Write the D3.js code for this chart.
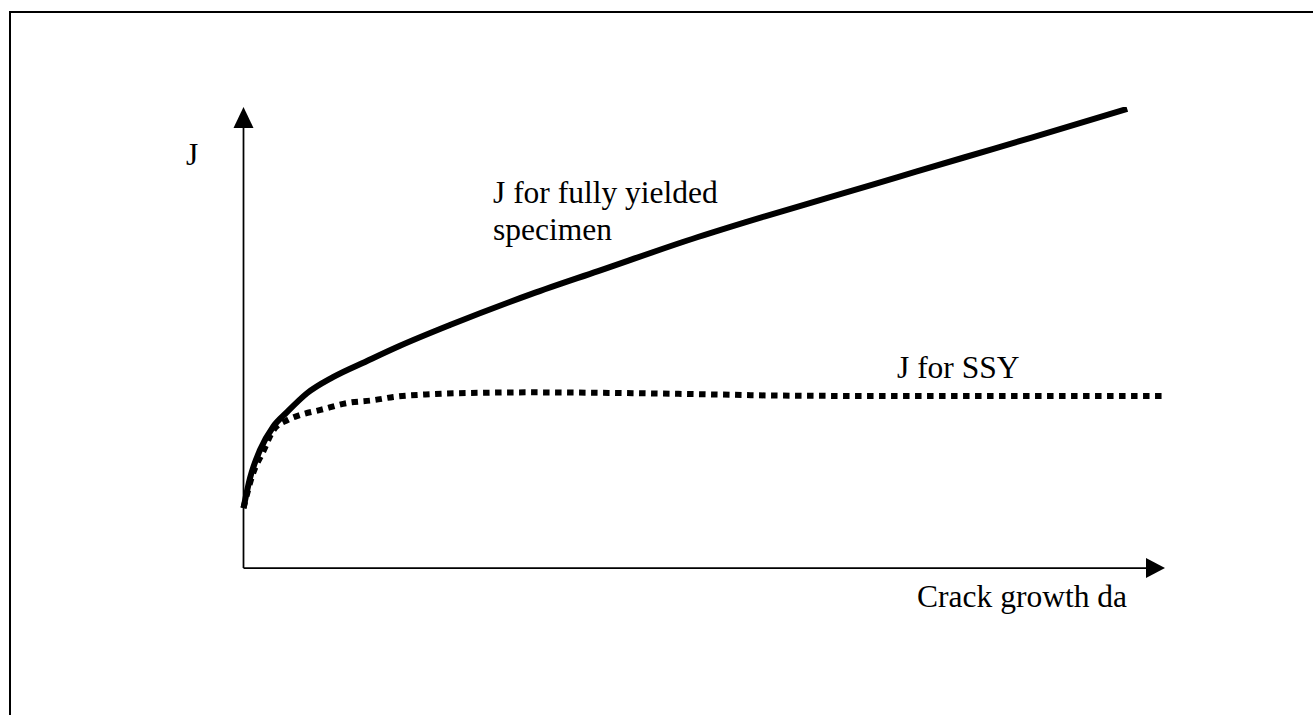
<!DOCTYPE html>
<html>
<head>
<meta charset="utf-8">
<script src="https://cdn.jsdelivr.net/npm/d3@7"></script>
<style>
  html, body { margin: 0; padding: 0; background: #fff; }
  svg { display: block; }
</style>
</head>
<body>
<div id="chart"></div>
<script>
// Crack growth (x) in arbitrary units 0..100, J in arbitrary units 0..100
const fullyYieldedX = [0, 0.71, 1.79, 3.20, 4.72, 6.89, 9.71, 13.40, 16.98, 22.40, 31.21, 38.48, 49.32, 56.59, 63.75, 71.01, 78.28, 85.44, 95.9];
const fullyYieldedJ = [13.0, 19.5, 25.6, 30.6, 33.8, 37.9, 41.4, 44.9, 48.2, 52.7, 59.4, 64.4, 71.8, 76.3, 80.5, 84.8, 89.1, 93.3, 99.6];

const ssyX = [0, 0.98, 2.17, 3.25, 4.77, 6.18, 8.35, 11.28, 14.10, 16.27, 20.28, 25.7, 31.13, 38.72, 49.57, 58.24, 71.26, 99.67];
const ssyJ = [13.0, 20.2, 25.4, 29.9, 32.1, 33.2, 34.3, 35.8, 36.4, 37.1, 37.7, 38.0, 38.1, 38.0, 37.7, 37.4, 37.3, 37.3];

const labels = {
  yAxis: 'J',
  xAxis: 'Crack growth da',
  fully: ['J for fully yielded', 'specimen'],
  ssy: 'J for SSY'
};

const W = 1313, H = 715;
const FONT = '"Liberation Serif", "Times New Roman", serif';

const svg = d3.select('#chart').append('svg')
  .attr('width', W)
  .attr('height', H)
  .attr('viewBox', `0 0 ${W} ${H}`);

// outer frame (right and bottom edges fall outside the picture)
svg.append('rect')
  .attr('x', 10)
  .attr('y', 12)
  .attr('width', W + 20)
  .attr('height', H + 20)
  .attr('fill', 'none')
  .attr('stroke', '#000')
  .attr('stroke-width', 2);

// scales: domain end corresponds to arrow tips
const x = d3.scaleLinear().domain([0, 100]).range([243.5, 1165]);
const y = d3.scaleLinear().domain([0, 100]).range([568, 107]);

// axes
const axisLine = d3.line().x(d => x(d[0])).y(d => y(d[1]));
svg.append('path')
  .attr('d', axisLine([[0, 0], [0, 96]]))
  .attr('stroke', '#000')
  .attr('stroke-width', 1.75)
  .attr('fill', 'none');
svg.append('path')
  .attr('d', axisLine([[0, 0], [98, 0]]))
  .attr('stroke', '#000')
  .attr('stroke-width', 1.75)
  .attr('fill', 'none');

// arrow heads
const yTip = [x(0), y(100)];
svg.append('path')
  .attr('d', `M${yTip[0]},${yTip[1]}L${yTip[0] - 10},${yTip[1] + 21}L${yTip[0] + 10},${yTip[1] + 21}Z`)
  .attr('fill', '#000');
const xTip = [x(100), y(0)];
svg.append('path')
  .attr('d', `M${xTip[0]},${xTip[1]}L${xTip[0] - 19},${xTip[1] - 10}L${xTip[0] - 19},${xTip[1] + 10}Z`)
  .attr('fill', '#000');

// curves
const curve = d3.line()
  .x(d => x(d[0]))
  .y(d => y(d[1]))
  .curve(d3.curveMonotoneX);

svg.append('path')
  .attr('d', curve(d3.zip(ssyX, ssyJ)))
  .attr('fill', 'none')
  .attr('stroke', '#000')
  .attr('stroke-width', 6)
  .attr('stroke-dasharray', '6.5,5.5');

svg.append('path')
  .attr('d', curve(d3.zip(fullyYieldedX, fullyYieldedJ)))
  .attr('fill', 'none')
  .attr('stroke', '#000')
  .attr('stroke-width', 6)
  .attr('stroke-linecap', 'butt');

// text labels
function addText(tx, ty, str, anchor = 'start') {
  svg.append('text')
    .attr('x', tx)
    .attr('y', ty)
    .attr('text-anchor', anchor)
    .attr('font-family', FONT)
    .attr('font-size', '31.5px')
    .attr('fill', '#000')
    .text(str);
}

addText(186, 165, labels.yAxis);
addText(1127, 607, labels.xAxis, 'end');
addText(493, 203, labels.fully[0]);
addText(493, 240, labels.fully[1]);
addText(897, 378, labels.ssy);
</script>
</body>
</html>
